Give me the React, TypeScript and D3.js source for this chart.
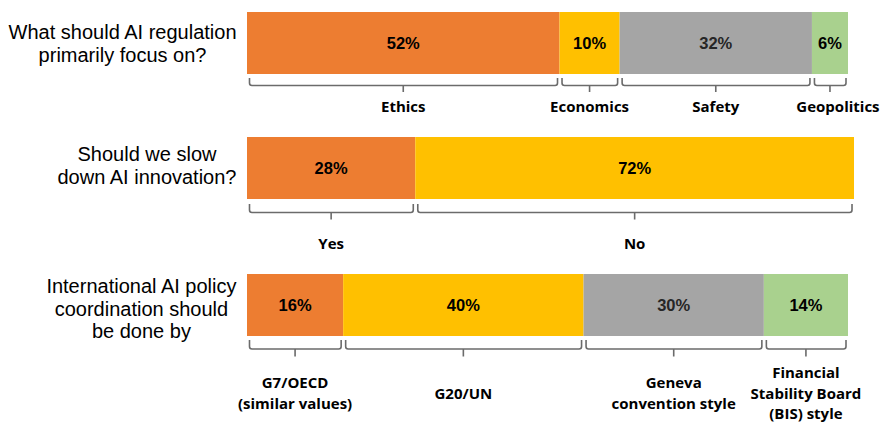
import React, { useEffect, useRef } from "react";
import * as d3 from "d3";

// ---- data ----
const questions: string[][] = [
  ["What should AI regulation", "primarily focus on?"],
  ["Should we slow", "down AI innovation?"],
  ["International AI policy", "coordination should", "be done by"],
];

const categories1: string[][] = [["Ethics"], ["Economics"], ["Safety"], ["Geopolitics"]];
const values1: number[] = [52, 10, 32, 6];
const pctLabels1: string[] = ["52%", "10%", "32%", "6%"];

const categories2: string[][] = [["Yes"], ["No"]];
const values2: number[] = [28, 73];
const pctLabels2: string[] = ["28%", "72%"];

const categories3: string[][] = [
  ["G7/OECD", "(similar values)"],
  ["G20/UN"],
  ["Geneva", "convention style"],
  ["Financial", "Stability Board", "(BIS) style"],
];
const values3: number[] = [16, 40, 30, 14];
const pctLabels3: string[] = ["16%", "40%", "30%", "14%"];

const segmentColors: string[] = ["#ED7D31", "#FFC000", "#A5A5A5", "#A9D18E"];

const W = 888;
const H = 428;

export default function App() {
  const ref = useRef<SVGSVGElement | null>(null);

  useEffect(() => {
    const svg = d3.select(ref.current);
    svg.selectAll("*").remove();

    const x = d3.scaleLinear().domain([0, 100]).range([247, 848]);

    const rows = [
      { cats: categories1, vals: values1, pcts: pctLabels1, barTop: 12, brTop: 78, brH: 7.5, tick: 6.5, labelMid: 112, qBase: 39, labelDx: [0, 0, 0, 8] },
      { cats: categories2, vals: values2, pcts: pctLabels2, barTop: 137, brTop: 204, brH: 8.5, tick: 7, labelMid: 249, qBase: 161, labelDx: [0, 0] },
      { cats: categories3, vals: values3, pcts: pctLabels3, barTop: 274, brTop: 340, brH: 9, tick: 7.5, labelMid: 398.5, qBase: 293, labelDx: [0, 0, 0, 0] },
    ];
    const barH = 62;

    rows.forEach((row, ri) => {
      const g = svg.append("g");
      const starts = d3.cumsum([0, ...row.vals]);
      const segs = row.vals.map((v, i) => ({
        x0: x(starts[i]),
        x1: x(starts[i] + v),
        color: segmentColors[i],
        pct: row.pcts[i],
        cat: row.cats[i],
        dx: row.labelDx[i] || 0,
      }));

      // bars
      g.selectAll("rect.seg")
        .data(segs)
        .join("rect")
        .attr("x", (d) => d.x0)
        .attr("y", row.barTop)
        .attr("width", (d) => d.x1 - d.x0)
        .attr("height", barH)
        .attr("fill", (d) => d.color);

      // percent labels
      g.selectAll("text.pct")
        .data(segs)
        .join("text")
        .attr("x", (d) => (d.x0 + d.x1) / 2)
        .attr("y", row.barTop + barH / 2 + 6)
        .attr("text-anchor", "middle")
        .attr("font-family", "'Liberation Sans', Arial, sans-serif")
        .attr("font-weight", "bold")
        .attr("font-size", 16.5)
        .attr("fill", (d) => (d.color === "#A5A5A5" ? "#262626" : "#000"))
        .text((d) => d.pct);

      // brackets
      const r = 2.5;
      segs.forEach((d) => {
        const a = d.x0 + 2.5;
        const b = d.x1 - 2;
        const m = (d.x0 + d.x1) / 2;
        const top = row.brTop;
        const hy = top + row.brH;
        const p = d3.path();
        p.moveTo(a, top);
        p.lineTo(a, hy - r);
        p.quadraticCurveTo(a, hy, a + r, hy);
        p.lineTo(b - r, hy);
        p.quadraticCurveTo(b, hy, b, hy - r);
        p.lineTo(b, top);
        p.moveTo(m, hy);
        p.lineTo(m, hy + row.tick);
        g.append("path")
          .attr("d", p.toString())
          .attr("fill", "none")
          .attr("stroke", "#6b6b6b")
          .attr("stroke-width", 1.6);

        // category labels
        const n = d.cat.length;
        const lh = 20.5;
        const t = g
          .append("text")
          .attr("text-anchor", "middle")
          .attr("font-family", "'Open Sans', sans-serif")
          .attr("font-weight", 700)
          .attr("font-size", 15)
          .attr("fill", "#000");
        d.cat.forEach((line, li) => {
          t.append("tspan")
            .attr("x", m + d.dx)
            .attr("y", row.labelMid + (li - (n - 1) / 2) * lh)
            .text(line);
        });
      });

      // question text: block right-aligned, lines centered
      const q = questions[ri];
      const qt = svg
        .append("text")
        .attr("text-anchor", "middle")
        .attr("font-family", "'Liberation Sans', Arial, sans-serif")
        .attr("font-size", 20)
        .attr("fill", "#000");
      const spans = q.map((line, li) =>
        qt.append("tspan").attr("y", row.qBase + li * 22.5).text(line)
      );
      let maxW = 0;
      spans.forEach((s) => {
        const node = s.node() as SVGTSpanElement;
        const w = node.getComputedTextLength();
        if (w > maxW) maxW = w;
      });
      const cx = 236.5 - maxW / 2;
      spans.forEach((s) => s.attr("x", cx));
    });
  }, []);

  return (
    <svg
      ref={ref}
      width={W}
      height={H}
      style={{ position: "absolute", left: 0, top: 0, background: "#fff", display: "block" }}
    />
  );
}
